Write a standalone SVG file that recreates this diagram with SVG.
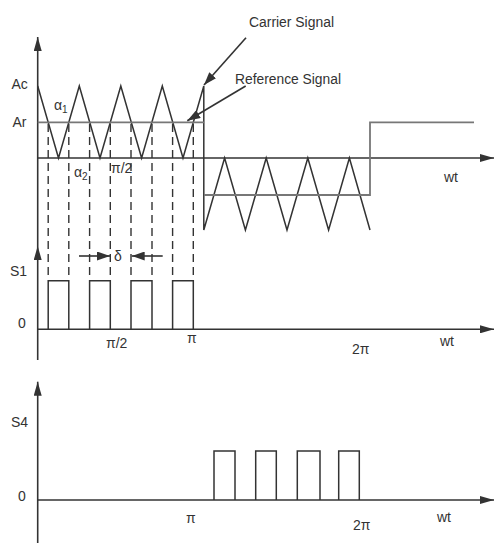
<svg xmlns="http://www.w3.org/2000/svg" width="500" height="553" viewBox="0 0 500 553">
<style>
.ax{stroke:#333;stroke-width:1.6;fill:none}
.w{stroke:#333;stroke-width:1.5;fill:none;stroke-linejoin:miter}
.ref{stroke:#777;stroke-width:1.8;fill:none}
.d{stroke:#333;stroke-width:1.4;stroke-dasharray:8 5;fill:none}
.t{font-family:"Liberation Sans",Arial,sans-serif;fill:#333;font-size:14px}
.s{font-size:10px}
</style>
<defs>
<marker id="ah" viewBox="0 0 14 8" refX="14" refY="4" markerWidth="14" markerHeight="8" markerUnits="userSpaceOnUse" orient="auto">
<path d="M0,0 L14,4 L0,8 z" fill="#333"/>
</marker>
<marker id="ah2" viewBox="0 0 13 9" refX="13" refY="4.5" markerWidth="13" markerHeight="9" markerUnits="userSpaceOnUse" orient="auto">
<path d="M0,0 L13,4.5 L0,9 z" fill="#333"/>
</marker>
</defs>
<g id="axes">
<line class="ax" x1="37.7" y1="246" x2="37.7" y2="37" marker-end="url(#ah)"/>
<line class="ax" x1="37.7" y1="360" x2="37.7" y2="246" marker-end="url(#ah)"/>
<line class="ax" x1="37.7" y1="543" x2="37.7" y2="381.7" marker-end="url(#ah)"/>
<line class="ax" x1="37.7" y1="158" x2="494" y2="158" marker-end="url(#ah)"/>
<line class="ax" x1="37.7" y1="329.3" x2="494" y2="329.3" marker-end="url(#ah)"/>
<line class="ax" x1="37.7" y1="500" x2="494" y2="500" marker-end="url(#ah)"/>
</g>
<g id="carrier">
<polyline class="w" points="37.7,86 58.5,158 79.3,86 100,158 120.8,86 141.6,158 162.3,86 183,158 203.8,86 203.8,230 224.6,158 245.4,230 266.2,158 287,230 307.8,158 328.6,230 349.4,158 370,230"/>
</g>
<g id="reference">
<line class="ref" x1="37.7" y1="122.3" x2="204" y2="122.3"/>
<polyline class="ref" points="204,195 370,195 370,122.3 474,122.3"/>
</g>
<g id="dashes">
<line class="d" x1="48.2" y1="124" x2="48.2" y2="280"/>
<line class="d" x1="68.8" y1="124" x2="68.8" y2="280"/>
<line class="d" x1="89.6" y1="124" x2="89.6" y2="280"/>
<line class="d" x1="110.3" y1="124" x2="110.3" y2="280"/>
<line class="d" x1="131" y1="124" x2="131" y2="280"/>
<line class="d" x1="152" y1="124" x2="152" y2="280"/>
<line class="d" x1="172.6" y1="124" x2="172.6" y2="280"/>
<line class="d" x1="193.3" y1="124" x2="193.3" y2="280"/>
</g>
<g id="s1-pulses">
<polyline class="w" points="48.2,329.3 48.2,280.7 68.8,280.7 68.8,329.3"/>
<polyline class="w" points="89.6,329.3 89.6,280.7 110.3,280.7 110.3,329.3"/>
<polyline class="w" points="131,329.3 131,280.7 152,280.7 152,329.3"/>
<polyline class="w" points="172.6,329.3 172.6,280.7 193.3,280.7 193.3,329.3"/>
</g>
<g id="s4-pulses">
<polyline class="w" points="214,500 214,451 235,451 235,500"/>
<polyline class="w" points="255.7,500 255.7,451 276.3,451 276.3,500"/>
<polyline class="w" points="297.3,500 297.3,451 320,451 320,500"/>
<polyline class="w" points="338.7,500 338.7,451 359.3,451 359.3,500"/>
</g>
<g id="connectors">
<line class="ax" x1="246" y1="37.7" x2="204" y2="85" marker-end="url(#ah2)"/>
<line class="ax" x1="245.7" y1="86" x2="187.3" y2="120.7" marker-end="url(#ah2)"/>
<line class="ax" x1="79" y1="256" x2="110" y2="256" marker-end="url(#ah2)"/>
<line class="ax" x1="162.7" y1="256" x2="131.7" y2="256" marker-end="url(#ah2)"/>
</g>
<g id="labels">
<text class="t" x="249" y="27" font-size="16" textLength="85" lengthAdjust="spacingAndGlyphs">Carrier Signal</text>
<text class="t" x="235" y="84" font-size="16" textLength="106" lengthAdjust="spacingAndGlyphs">Reference Signal</text>
<text class="t" x="11.5" y="89">Ac</text>
<text class="t" x="12.5" y="127">Ar</text>
<text class="t" x="54" y="110">α<tspan class="s" dy="3">1</tspan></text>
<text class="t" x="74" y="177">α<tspan class="s" dy="3">2</tspan></text>
<text class="t" x="111" y="173">π/2</text>
<text class="t" x="444" y="182">wt</text>
<text class="t" x="114" y="261">δ</text>
<text class="t" x="10" y="276">S1</text>
<text class="t" x="18" y="328">0</text>
<text class="t" x="106" y="348">π/2</text>
<text class="t" x="187" y="343">π</text>
<text class="t" x="352" y="354">2π</text>
<text class="t" x="440" y="346">wt</text>
<text class="t" x="11" y="427">S4</text>
<text class="t" x="18" y="501">0</text>
<text class="t" x="186" y="523">π</text>
<text class="t" x="353" y="530">2π</text>
<text class="t" x="437" y="522">wt</text>
</g>
</svg>
